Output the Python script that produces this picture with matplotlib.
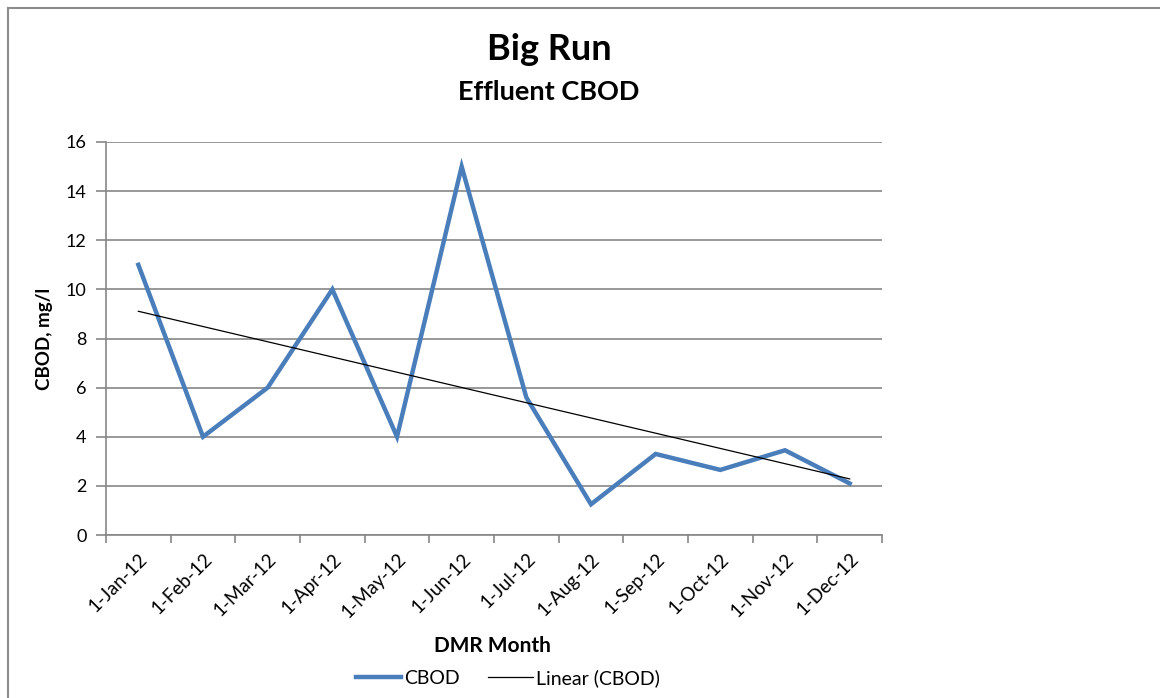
import numpy as np
import matplotlib
matplotlib.use('Agg')
import matplotlib.pyplot as plt
from matplotlib.lines import Line2D

# dados
meses = ['1-Jan-12', '1-Feb-12', '1-Mar-12', '1-Apr-12', '1-May-12', '1-Jun-12',
         '1-Jul-12', '1-Aug-12', '1-Sep-12', '1-Oct-12', '1-Nov-12', '1-Dec-12']
cbod = [11, 4, 6, 10, 4, 15, 5.6, 1.25, 3.3, 2.65, 3.45, 2.1]

plt.rcParams['font.family'] = ['Lato', 'DejaVu Sans']

W, H = 1160, 698
fig = plt.figure(figsize=(W / 100, H / 100), dpi=100)
fig.patch.set_facecolor('white')

# area do grafico (pixels)
left, right, top, bottom = 106, 882, 142, 535
ax = fig.add_axes([left / W, 1 - bottom / H, (right - left) / W, (bottom - top) / H])

x = np.arange(len(meses))
y = np.array(cbod)

# linha de tendencia linear
b = np.polyfit(x, y, 1)
trend = np.polyval(b, x)

ax.plot(x, y, color='#4a7ebb', lw=3.2, solid_joinstyle='miter', label='CBOD', zorder=3)
ax.plot(x, trend, color='black', lw=0.9, label='Linear (CBOD)', zorder=4)

ax.set_xlim(-0.5, len(meses) - 0.5)
ax.set_ylim(0, 16)
ax.set_yticks(range(0, 17, 2))
ax.yaxis.grid(True, color='#868686', lw=1.2)
ax.set_axisbelow(True)

ax.set_xticks(x)
ax.set_xticklabels(meses, rotation=45, ha='right', rotation_mode='anchor', fontsize=13.5)
ax.set_xticks(np.arange(-0.5, len(meses), 1), minor=True)
ax.tick_params(axis='x', which='major', length=0, pad=11)
ax.tick_params(axis='x', which='minor', length=6, color='#868686', width=1.2, direction='out')
ax.tick_params(axis='y', length=7, color='#868686', width=1.2, labelsize=13, pad=7)

for s in ['top', 'right']:
    ax.spines[s].set_visible(False)
for s in ['left', 'bottom']:
    ax.spines[s].set_color('#868686')
    ax.spines[s].set_linewidth(1.2)

ax.set_ylabel('CBOD, mg/l', fontsize=13.5, fontweight='bold')
ax.yaxis.set_label_coords(-53 / (right - left), 0.5)

fig.text(549 / W, 1 - 50 / H, 'Big Run', fontsize=26, fontweight='bold', ha='center', va='center')
fig.text(549 / W, 1 - 92 / H, 'Effluent CBOD', fontsize=19.5, fontweight='bold', ha='center', va='center')
fig.text(492 / W, 1 - 646 / H, 'DMR Month', fontsize=15, fontweight='bold', ha='center', va='center')

fig.legend(loc='center', bbox_to_anchor=(508 / W, 1 - 678 / H), ncol=2, frameon=False,
           fontsize=14, handlelength=2.3, handletextpad=0.15, columnspacing=1.5)

# borda externa do grafico
fig.add_artist(Line2D([7.5 / W, 7.5 / W], [0, 1 - 7.5 / H], color='#8c8c8c', lw=1.5))
fig.add_artist(Line2D([7.5 / W, 1], [1 - 7.5 / H, 1 - 7.5 / H], color='#8c8c8c', lw=1.5))

fig.savefig('out.png', dpi=100)
